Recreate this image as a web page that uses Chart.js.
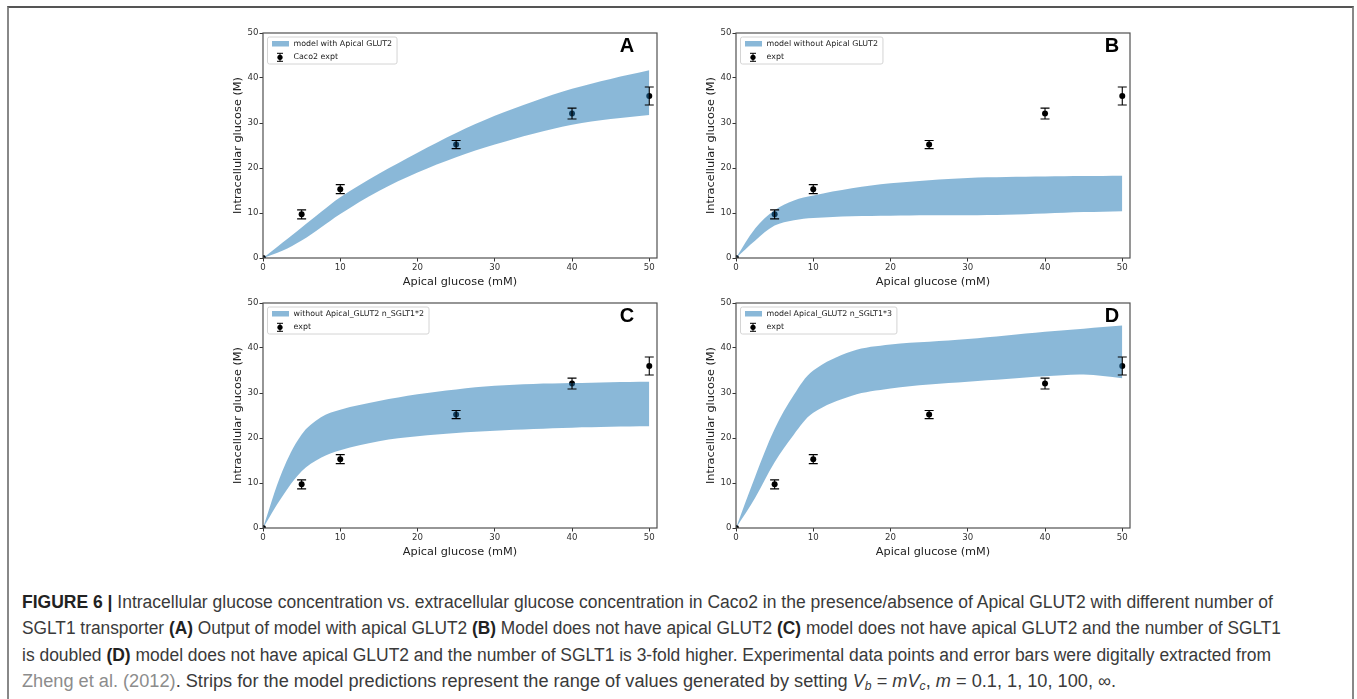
<!DOCTYPE html>
<html>
<head>
<meta charset="utf-8">
<script src="https://cdn.jsdelivr.net/npm/chart.js@4.4.1/dist/chart.umd.min.js"></script>
<style>
  html, body { margin: 0; padding: 0; background: #fff; }
  body { width: 1357px; height: 699px; position: relative; overflow: hidden; }
  .frame { position: absolute; left: 7px; top: 6px; width: 1343px; height: 760px;
    border-top: 2px solid #555; border-left: 2px solid #888; border-right: 2px solid #888; }
  canvas.panel { position: absolute; }
  .caption { position: absolute; left: 22px; top: 589px;
    font-family: 'Liberation Sans Narrow', 'Liberation Sans', Arial, sans-serif;
    font-size: 18px; color: #3a3a3a; }
  .caption .line { height: 26.3px; line-height: 26px; white-space: nowrap; }
  .caption .line span.fit { display: inline-block; transform-origin: 0 50%; }
  .caption b { color: #222; }
  .caption .ref { color: #8c8c8c; }
  .caption sub { font-size: 12px; line-height: 0; vertical-align: -3px; }
</style>
</head>
<body>
<div class="frame"></div>

<div class="caption">
  <div class="line"><span class="fit"><b>FIGURE 6 |</b> Intracellular glucose concentration vs. extracellular glucose concentration in Caco2 in the presence/absence of Apical GLUT2 with different number of</span></div>
  <div class="line"><span class="fit">SGLT1 transporter <b>(A)</b> Output of model with apical GLUT2 <b>(B)</b> Model does not have apical GLUT2 <b>(C)</b> model does not have apical GLUT2 and the number of SGLT1</span></div>
  <div class="line"><span class="fit">is doubled <b>(D)</b> model does not have apical GLUT2 and the number of SGLT1 is 3-fold higher. Experimental data points and error bars were digitally extracted from</span></div>
  <div class="line"><span class="fit"><span class="ref">Zheng et al. (2012)</span>. Strips for the model predictions represent the range of values generated by setting <i>V<sub>b</sub></i> = <i>mV<sub>c</sub></i>, <i>m</i> = 0.1, 1, 10, 100, ∞.</span></div>
</div>

<script>
// model strip, sampled on a common apical glucose grid (mM)
const xModel = [0, 2.5, 5, 7.5, 10, 15, 20, 25, 30, 35, 40, 45, 50];

const upperA = [0, 3.4, 6.8, 10.2, 13.5, 18.7, 23.4, 27.8, 31.6, 34.8, 37.6, 39.8, 41.7];
const lowerA = [0, 1.6, 3.9, 6.8, 9.8, 14.9, 19.0, 22.4, 25.2, 27.6, 29.6, 30.9, 31.8];

const upperB = [0, 6.6, 10.6, 12.8, 13.9, 15.5, 16.6, 17.3, 17.8, 18.0, 18.1, 18.2, 18.3];
const lowerB = [0, 3.9, 7.2, 8.4, 8.9, 9.3, 9.4, 9.5, 9.5, 9.6, 9.9, 10.2, 10.4];

const upperC = [0, 12.6, 20.8, 24.6, 26.3, 28.2, 29.7, 30.8, 31.6, 32.0, 32.2, 32.4, 32.5];
const lowerC = [0, 7.0, 12.6, 15.6, 17.3, 19.3, 20.4, 21.1, 21.6, 22.0, 22.3, 22.5, 22.6];

const upperD = [0, 11.5, 22.0, 29.6, 35.0, 39.3, 40.8, 41.4, 42.0, 42.8, 43.6, 44.3, 45.0];
const lowerD = [0, 6.8, 14.6, 20.8, 25.6, 29.4, 31.0, 31.9, 32.5, 33.1, 33.7, 34.1, 33.3];

// experimental points (Zheng et al. 2012)
const xExpt = [0, 5, 10, 25, 40, 50];
const yExpt = [0, 9.7, 15.3, 25.2, 32.1, 36.0];
const errExpt = [0, 1.0, 1.0, 0.9, 1.2, 2.0];

const xTicks = [0, 10, 20, 30, 40, 50];
const yTicks = [0, 10, 20, 30, 40, 50];

const bandLabels = ['model with Apical GLUT2', 'model without Apical GLUT2',
  'without Apical_GLUT2 n_SGLT1*2', 'model Apical_GLUT2 n_SGLT1*3'];
const exptLabels = ['Caco2 expt', 'expt', 'expt', 'expt'];
const panelLetters = ['A', 'B', 'C', 'D'];

const BAND = 'rgba(31,119,180,0.52)';
Chart.defaults.font.family = '"DejaVu Sans", Verdana, sans-serif';

// boxes, error bars, in-axes legend and panel letter
const panelDecor = {
  id: 'panelDecor',
  afterDatasetsDraw(chart) {
    const { ctx, scales: { x, y } } = chart;
    const ds = chart.data.datasets[2];
    ctx.save();
    ctx.strokeStyle = '#000';
    ctx.lineWidth = 1.1;
    ds.data.forEach((pt, k) => {
      const e = ds.errors[k];
      if (!e) return;
      const px = x.getPixelForValue(pt.x);
      const y1 = y.getPixelForValue(pt.y - e), y2 = y.getPixelForValue(pt.y + e);
      ctx.beginPath();
      ctx.moveTo(px, y1); ctx.lineTo(px, y2);
      ctx.moveTo(px - 4.5, y1); ctx.lineTo(px + 4.5, y1);
      ctx.moveTo(px - 4.5, y2); ctx.lineTo(px + 4.5, y2);
      ctx.stroke();
    });
    ctx.restore();
  },
  afterDraw(chart, args, opts) {
    const { ctx, chartArea: a } = chart;
    ctx.save();
    // axes box
    ctx.strokeStyle = '#505050';
    ctx.lineWidth = 1.2;
    ctx.strokeRect(a.left, a.top, a.right - a.left, a.bottom - a.top);

    // legend
    ctx.font = '7.9px "DejaVu Sans"';
    const tw = Math.max(ctx.measureText(opts.bandLabel).width, ctx.measureText(opts.exptLabel).width);
    const lx = a.left + 4.5, ly = a.top + 4, lw = 26 + tw + 5, lh = 27;
    ctx.beginPath();
    ctx.roundRect(lx, ly, lw, lh, 2);
    ctx.fillStyle = 'rgba(255,255,255,0.85)';
    ctx.fill();
    ctx.strokeStyle = '#d4d4d4';
    ctx.lineWidth = 1;
    ctx.stroke();

    ctx.fillStyle = BAND;
    ctx.fillRect(lx + 4.5, ly + 4, 17, 5.5);

    const cx = lx + 12.5, cy = ly + 20.3;
    ctx.strokeStyle = '#000';
    ctx.beginPath();
    ctx.moveTo(cx, cy - 4); ctx.lineTo(cx, cy + 4);
    ctx.moveTo(cx - 3, cy - 4); ctx.lineTo(cx + 3, cy - 4);
    ctx.moveTo(cx - 3, cy + 4); ctx.lineTo(cx + 3, cy + 4);
    ctx.stroke();
    ctx.fillStyle = '#000';
    ctx.beginPath();
    ctx.arc(cx, cy, 2.6, 0, Math.PI * 2);
    ctx.fill();

    ctx.fillStyle = '#222';
    ctx.textBaseline = 'middle';
    ctx.textAlign = 'left';
    ctx.fillText(opts.bandLabel, lx + 26, ly + 7);
    ctx.fillText(opts.exptLabel, lx + 26, cy);

    // panel letter
    ctx.font = 'bold 20px "Liberation Sans", Arial, sans-serif';
    ctx.textAlign = 'center';
    ctx.textBaseline = 'alphabetic';
    ctx.fillStyle = '#000';
    ctx.fillText(opts.letter, a.right - opts.letterDx, a.top + 19);
    ctx.restore();
  }
};

const panels = [
  { left: 215, top: 23, upper: upperA, lower: lowerA, letterDx: 30 },
  { left: 688, top: 23, upper: upperB, lower: lowerB, letterDx: 18 },
  { left: 215, top: 293, upper: upperC, lower: lowerC, letterDx: 30 },
  { left: 688, top: 293, upper: upperD, lower: lowerD, letterDx: 18 }
];

const pts = (xs, ys) => xs.map((x, k) => ({ x, y: ys[k] }));

panels.forEach((p, i) => {
  const canvas = document.createElement('canvas');
  canvas.className = 'panel';
  canvas.width = 450;
  canvas.height = 270;
  canvas.style.left = p.left + 'px';
  canvas.style.top = p.top + 'px';
  document.body.appendChild(canvas);

  new Chart(canvas.getContext('2d'), {
    type: 'line',
    data: {
      datasets: [
        {
          label: bandLabels[i],
          data: pts(xModel, p.upper),
          borderColor: 'rgba(0,0,0,0)',
          borderWidth: 0,
          pointRadius: 0,
          backgroundColor: BAND,
          fill: '+1',
          tension: 0.35
        },
        {
          data: pts(xModel, p.lower),
          borderColor: 'rgba(0,0,0,0)',
          borderWidth: 0,
          pointRadius: 0,
          fill: false,
          tension: 0.35
        },
        {
          label: exptLabels[i],
          data: pts(xExpt, yExpt),
          errors: errExpt,
          showLine: false,
          pointRadius: 3,
          pointBackgroundColor: '#000',
          pointBorderColor: '#000',
          pointBorderWidth: 0
        }
      ]
    },
    options: {
      responsive: false,
      animation: false,
      devicePixelRatio: 1,
      events: [],
      layout: { padding: { left: 0, top: 10, right: 8, bottom: 0 } },
      plugins: {
        legend: { display: false },
        tooltip: { enabled: false },
        panelDecor: { letter: panelLetters[i], letterDx: p.letterDx, bandLabel: bandLabels[i], exptLabel: exptLabels[i] }
      },
      scales: {
        x: {
          type: 'linear',
          min: 0,
          max: 51,
          afterBuildTicks: s => { s.ticks = xTicks.map(v => ({ value: v })); },
          afterFit: s => { s.height = 35; },
          grid: { drawOnChartArea: false, drawTicks: true, tickLength: 3.5, color: '#333' },
          border: { display: false },
          ticks: { color: '#333', font: { size: 8.6 }, padding: 1.5, maxRotation: 0 },
          title: { display: true, text: 'Apical glucose (mM)', color: '#222', font: { size: 11.3 }, padding: { top: 0, bottom: 4.5 } }
        },
        y: {
          type: 'linear',
          min: 0,
          max: 50,
          afterBuildTicks: s => { s.ticks = yTicks.map(v => ({ value: v })); },
          afterFit: s => { s.width = 48; },
          grid: { drawOnChartArea: false, drawTicks: true, tickLength: 3.5, color: '#333' },
          border: { display: false },
          ticks: { color: '#333', font: { size: 8.6 }, padding: 1 },
          title: { display: true, text: 'Intracellular glucose (M)', color: '#222', font: { size: 11.3 }, padding: { top: 16.5, bottom: 0 } }
        }
      }
    },
    plugins: [panelDecor]
  });
});

// stretch caption lines to the measured line lengths of the printed figure
const captionWidths = [1251, 1259, 1249, 1094];
document.querySelectorAll('.caption .fit').forEach((el, k) => {
  const w = el.getBoundingClientRect().width;
  el.style.transform = 'scaleX(' + (captionWidths[k] / w).toFixed(4) + ')';
});
</script>
</body>
</html>
